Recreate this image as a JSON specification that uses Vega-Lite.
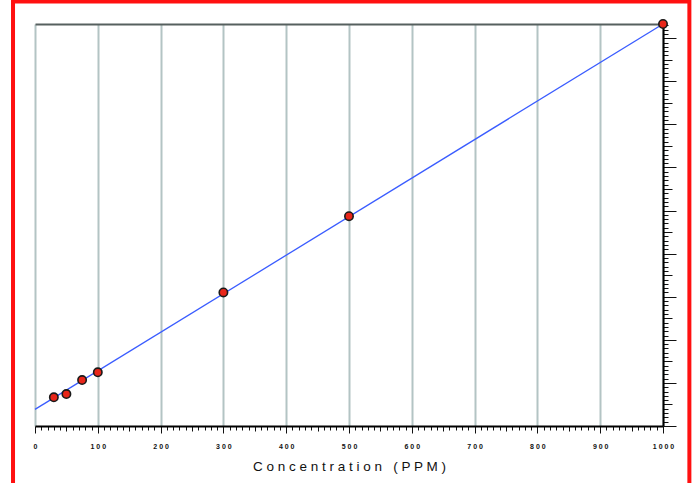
{
  "$schema": "https://vega.github.io/schema/vega-lite/v6.json",
  "width": 628,
  "height": 402,
  "autosize": {"type": "none"},
  "padding": {"left": 35, "top": 24, "right": 33, "bottom": 57},
  "background": "white",
  "config": {"view": {"stroke": null}},
  "datasets": {
    "fit": [
      {"ppm": 0, "signal": 3.87},
      {"ppm": 1000, "signal": 93.3}
    ],
    "standards": [
      {"ppm": 30, "signal": 6.66},
      {"ppm": 50, "signal": 7.42},
      {"ppm": 75, "signal": 10.67},
      {"ppm": 100, "signal": 12.46},
      {"ppm": 300, "signal": 31.0},
      {"ppm": 500, "signal": 48.7},
      {"ppm": 1000, "signal": 93.3}
    ],
    "frame": [{"x1": -35, "x2": 1042, "y1": 98.5, "y2": -25}]
  },
  "layer": [
    {
      "data": {"name": "fit"},
      "mark": {"type": "line", "color": "#3a5cff", "strokeWidth": 1.3},
      "encoding": {
        "x": {
          "field": "ppm", "type": "quantitative",
          "scale": {"domain": [0, 1000], "nice": false, "zero": false},
          "axis": {
            "orient": "bottom",
            "title": "C o n c e n t r a t i o n \u00a0 ( P P M )",
            "titleFont": "Liberation Sans",
            "titleFontSize": 13.5,
            "titleFontWeight": "normal",
            "titleColor": "#111111",
            "titlePadding": 10,
            "values": [0,10,20,30,40,50,60,70,80,90,100,110,120,130,140,150,160,170,180,190,200,210,220,230,240,250,260,270,280,290,300,310,320,330,340,350,360,370,380,390,400,410,420,430,440,450,460,470,480,490,500,510,520,530,540,550,560,570,580,590,600,610,620,630,640,650,660,670,680,690,700,710,720,730,740,750,760,770,780,790,800,810,820,830,840,850,860,870,880,890,900,910,920,930,940,950,960,970,980,990,1000],
            "format": "d",
            "labelExpr": "datum.value % 100 === 0 ? join(split(datum.label, ''), ' ') : ''",
            "labelFont": "Liberation Sans",
            "labelFontSize": 7,
            "labelFontWeight": "bold",
            "labelColor": "#111111",
            "labelPadding": 9,
            "labelFlush": false,
            "labelOverlap": false,
            "domainColor": "#000000",
            "domainWidth": 2,
            "tickColor": "#111111",
            "tickWidth": 1,
            "tickSize": {"condition": [{"test": "datum.value % 100 === 0", "value": 7}, {"test": "datum.value % 50 === 0", "value": 5}], "value": 4},
            "grid": true,
            "gridColor": "#b3c4c4",
            "gridWidth": 2,
            "gridOpacity": {"condition": {"test": "datum.value % 100 === 0", "value": 1}, "value": 0}
          }
        },
        "y": {
          "field": "signal", "type": "quantitative",
          "scale": {"domain": [0, 93.3], "nice": false, "zero": false},
          "axis": {
            "orient": "right",
            "title": null,
            "labels": false,
            "grid": false,
            "values": [0,1,2,3,4,5,6,7,8,9,10,11,12,13,14,15,16,17,18,19,20,21,22,23,24,25,26,27,28,29,30,31,32,33,34,35,36,37,38,39,40,41,42,43,44,45,46,47,48,49,50,51,52,53,54,55,56,57,58,59,60,61,62,63,64,65,66,67,68,69,70,71,72,73,74,75,76,77,78,79,80,81,82,83,84,85,86,87,88,89,90,91,92,93],
            "domainColor": "#000000",
            "domainWidth": 2,
            "tickColor": "#111111",
            "tickWidth": 1,
            "tickSize": {"condition": [{"test": "datum.value % 10 === 0", "value": 13}, {"test": "datum.value % 5 === 0", "value": 9}], "value": 5}
          }
        }
      }
    },
    {
      "data": {"name": "standards"},
      "mark": {"type": "point", "shape": "circle", "filled": true, "fill": "#e8261a", "stroke": "#1a1a1a", "strokeWidth": 1.6, "size": 70, "opacity": 1},
      "encoding": {
        "x": {
          "field": "ppm", "type": "quantitative",
          "axis": {"orient": "top", "title": null, "labels": false, "ticks": false, "grid": false, "domainColor": "#56605f", "domainWidth": 2}
        },
        "y": {"field": "signal", "type": "quantitative", "axis": null}
      }
    },
    {
      "data": {"name": "frame"},
      "mark": {"type": "rect", "fill": "transparent", "stroke": "#ff1010", "strokeWidth": 4, "clip": false},
      "encoding": {
        "x": {"field": "x1", "type": "quantitative", "axis": null},
        "x2": {"field": "x2"},
        "y": {"field": "y1", "type": "quantitative", "axis": null},
        "y2": {"field": "y2"}
      }
    }
  ],
  "resolve": {"axis": {"x": "independent", "y": "independent"}}
}
